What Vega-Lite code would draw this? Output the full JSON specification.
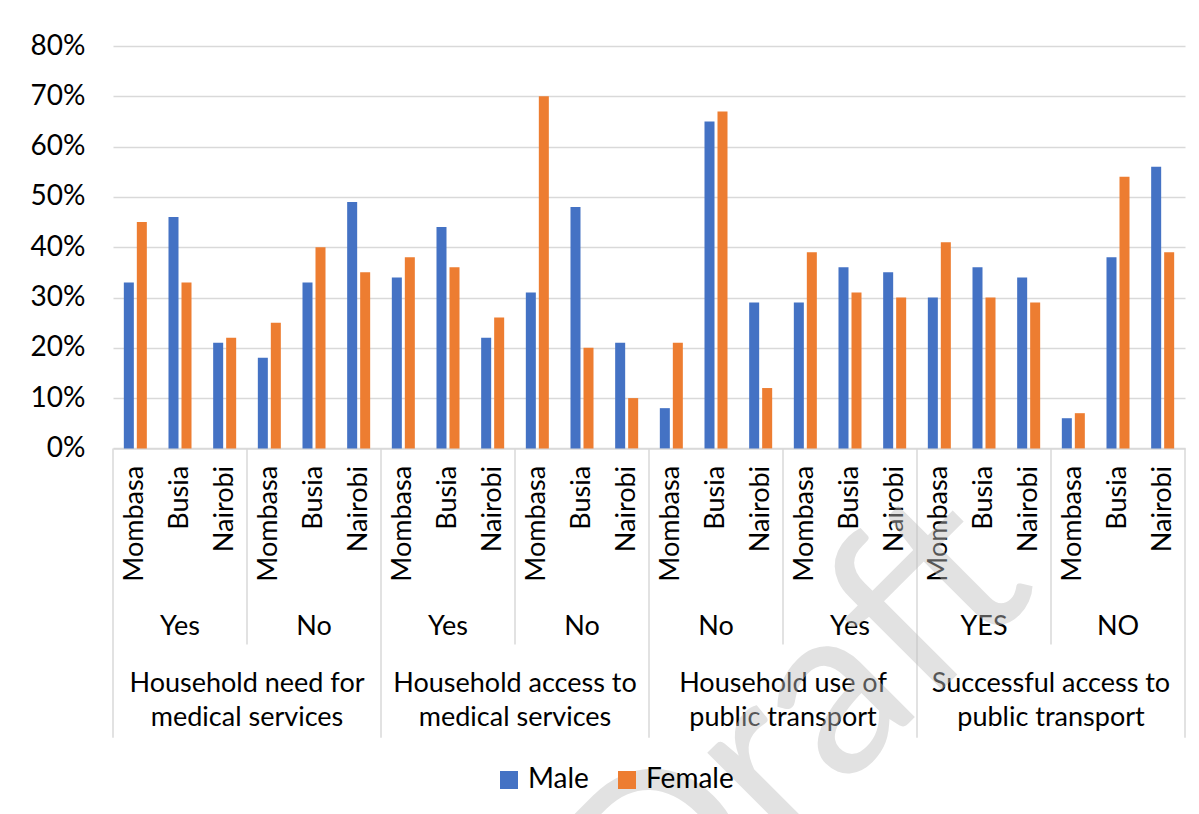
{
  "$schema": "https://vega.github.io/schema/vega-lite/v6.json",
  "autosize": "none",
  "width": 1072,
  "height": 402.4,
  "padding": {"left": 113, "top": 46, "right": 14, "bottom": 365.6},
  "background": "white",
  "config": {
    "font": "Lato",
    "view": {"stroke": null},
    "text": {"color": "#000000"}
  },
  "datasets": {
    "bars": [
      {"key": "A|Yes|Mombasa", "gender": "Male", "value": 0.33},
      {"key": "A|Yes|Mombasa", "gender": "Female", "value": 0.45},
      {"key": "A|Yes|Busia", "gender": "Male", "value": 0.46},
      {"key": "A|Yes|Busia", "gender": "Female", "value": 0.33},
      {"key": "A|Yes|Nairobi", "gender": "Male", "value": 0.21},
      {"key": "A|Yes|Nairobi", "gender": "Female", "value": 0.22},
      {"key": "A|No|Mombasa", "gender": "Male", "value": 0.18},
      {"key": "A|No|Mombasa", "gender": "Female", "value": 0.25},
      {"key": "A|No|Busia", "gender": "Male", "value": 0.33},
      {"key": "A|No|Busia", "gender": "Female", "value": 0.40},
      {"key": "A|No|Nairobi", "gender": "Male", "value": 0.49},
      {"key": "A|No|Nairobi", "gender": "Female", "value": 0.35},
      {"key": "B|Yes|Mombasa", "gender": "Male", "value": 0.34},
      {"key": "B|Yes|Mombasa", "gender": "Female", "value": 0.38},
      {"key": "B|Yes|Busia", "gender": "Male", "value": 0.44},
      {"key": "B|Yes|Busia", "gender": "Female", "value": 0.36},
      {"key": "B|Yes|Nairobi", "gender": "Male", "value": 0.22},
      {"key": "B|Yes|Nairobi", "gender": "Female", "value": 0.26},
      {"key": "B|No|Mombasa", "gender": "Male", "value": 0.31},
      {"key": "B|No|Mombasa", "gender": "Female", "value": 0.70},
      {"key": "B|No|Busia", "gender": "Male", "value": 0.48},
      {"key": "B|No|Busia", "gender": "Female", "value": 0.20},
      {"key": "B|No|Nairobi", "gender": "Male", "value": 0.21},
      {"key": "B|No|Nairobi", "gender": "Female", "value": 0.10},
      {"key": "C|No|Mombasa", "gender": "Male", "value": 0.08},
      {"key": "C|No|Mombasa", "gender": "Female", "value": 0.21},
      {"key": "C|No|Busia", "gender": "Male", "value": 0.65},
      {"key": "C|No|Busia", "gender": "Female", "value": 0.67},
      {"key": "C|No|Nairobi", "gender": "Male", "value": 0.29},
      {"key": "C|No|Nairobi", "gender": "Female", "value": 0.12},
      {"key": "C|Yes|Mombasa", "gender": "Male", "value": 0.29},
      {"key": "C|Yes|Mombasa", "gender": "Female", "value": 0.39},
      {"key": "C|Yes|Busia", "gender": "Male", "value": 0.36},
      {"key": "C|Yes|Busia", "gender": "Female", "value": 0.31},
      {"key": "C|Yes|Nairobi", "gender": "Male", "value": 0.35},
      {"key": "C|Yes|Nairobi", "gender": "Female", "value": 0.30},
      {"key": "D|YES|Mombasa", "gender": "Male", "value": 0.30},
      {"key": "D|YES|Mombasa", "gender": "Female", "value": 0.41},
      {"key": "D|YES|Busia", "gender": "Male", "value": 0.36},
      {"key": "D|YES|Busia", "gender": "Female", "value": 0.30},
      {"key": "D|YES|Nairobi", "gender": "Male", "value": 0.34},
      {"key": "D|YES|Nairobi", "gender": "Female", "value": 0.29},
      {"key": "D|NO|Mombasa", "gender": "Male", "value": 0.06},
      {"key": "D|NO|Mombasa", "gender": "Female", "value": 0.07},
      {"key": "D|NO|Busia", "gender": "Male", "value": 0.38},
      {"key": "D|NO|Busia", "gender": "Female", "value": 0.54},
      {"key": "D|NO|Nairobi", "gender": "Male", "value": 0.56},
      {"key": "D|NO|Nairobi", "gender": "Female", "value": 0.39}
    ],
    "sublabels": [
      {"key": "A|Yes|Busia", "label": "Yes"},
      {"key": "A|No|Busia", "label": "No"},
      {"key": "B|Yes|Busia", "label": "Yes"},
      {"key": "B|No|Busia", "label": "No"},
      {"key": "C|No|Busia", "label": "No"},
      {"key": "C|Yes|Busia", "label": "Yes"},
      {"key": "D|YES|Busia", "label": "YES"},
      {"key": "D|NO|Busia", "label": "NO"}
    ],
    "grouplabels": [
      {"key": "A|No|Mombasa", "label": "Household need for\nmedical services"},
      {"key": "B|No|Mombasa", "label": "Household access to\nmedical services"},
      {"key": "C|Yes|Mombasa", "label": "Household use of\npublic transport"},
      {"key": "D|NO|Mombasa", "label": "Successful access to\npublic transport"}
    ],
    "majorsep": [
      {"key": "A|Yes|Mombasa"},
      {"key": "B|Yes|Mombasa"},
      {"key": "C|No|Mombasa"},
      {"key": "D|YES|Mombasa"}
    ],
    "lastsep": [
      {"key": "D|NO|Nairobi"}
    ],
    "minorsep": [
      {"key": "A|No|Mombasa"},
      {"key": "B|No|Mombasa"},
      {"key": "C|Yes|Mombasa"},
      {"key": "D|NO|Mombasa"}
    ],
    "watermark": [
      {"key": "C|Yes|Mombasa", "label": "Draft"}
    ]
  },
  "encoding": {
    "x": {
      "field": "key",
      "type": "nominal",
      "scale": {
        "domain": [
          "A|Yes|Mombasa", "A|Yes|Busia", "A|Yes|Nairobi",
          "A|No|Mombasa", "A|No|Busia", "A|No|Nairobi",
          "B|Yes|Mombasa", "B|Yes|Busia", "B|Yes|Nairobi",
          "B|No|Mombasa", "B|No|Busia", "B|No|Nairobi",
          "C|No|Mombasa", "C|No|Busia", "C|No|Nairobi",
          "C|Yes|Mombasa", "C|Yes|Busia", "C|Yes|Nairobi",
          "D|YES|Mombasa", "D|YES|Busia", "D|YES|Nairobi",
          "D|NO|Mombasa", "D|NO|Busia", "D|NO|Nairobi"
        ],
        "paddingInner": 0,
        "paddingOuter": 0
      },
      "axis": {
        "title": null,
        "labelExpr": "split(datum.label, '|')[2]",
        "labelAngle": -90,
        "labelFontSize": 27,
        "labelColor": "#000000",
        "labelPadding": 17,
        "ticks": false,
        "grid": false,
        "domainColor": "#d9d9d9",
        "domainWidth": 1.5
      }
    }
  },
  "layer": [
    {
      "data": {"name": "bars"},
      "mark": {"type": "bar"},
      "encoding": {
        "y": {
          "field": "value",
          "type": "quantitative",
          "scale": {"domain": [0, 0.8], "nice": false, "zero": false},
          "axis": {
            "title": null,
            "values": [0, 0.1, 0.2, 0.3, 0.4, 0.5, 0.6, 0.7, 0.8],
            "format": ".0%",
            "labelFontSize": 28,
            "labelColor": "#000000",
            "labelPadding": 28,
            "ticks": false,
            "domain": false,
            "grid": true,
            "gridColor": "#d9d9d9",
            "gridWidth": 1.5
          }
        },
        "xOffset": {
          "field": "gender",
          "type": "nominal",
          "sort": ["Male", "Female"],
          "scale": {"paddingInner": 0.23, "paddingOuter": 0.833}
        },
        "color": {
          "field": "gender",
          "type": "nominal",
          "sort": ["Male", "Female"],
          "scale": {"domain": ["Male", "Female"], "range": ["#4472C4", "#ED7D31"]},
          "legend": {
            "title": null,
            "orient": "none",
            "direction": "horizontal",
            "legendX": 382,
            "legendY": 720,
            "padding": 0,
            "symbolType": "square",
            "symbolSize": 324,
            "symbolStrokeWidth": 0,
            "labelFontSize": 28,
            "labelColor": "#000000",
            "labelOffset": 5,
            "columnPadding": 24
          }
        }
      }
    },
    {
      "data": {"name": "minorsep"},
      "mark": {"type": "rule", "color": "#d9d9d9", "strokeWidth": 1.5},
      "encoding": {
        "x": {"field": "key", "type": "nominal", "bandPosition": 0},
        "y": {"datum": 0},
        "y2": {"datum": -0.39}
      }
    },
    {
      "data": {"name": "majorsep"},
      "mark": {"type": "rule", "color": "#d9d9d9", "strokeWidth": 1.5},
      "encoding": {
        "x": {"field": "key", "type": "nominal", "bandPosition": 0},
        "y": {"datum": 0},
        "y2": {"datum": -0.575}
      }
    },
    {
      "data": {"name": "lastsep"},
      "mark": {"type": "rule", "color": "#d9d9d9", "strokeWidth": 1.5},
      "encoding": {
        "x": {"field": "key", "type": "nominal", "bandPosition": 1},
        "y": {"datum": 0},
        "y2": {"datum": -0.575}
      }
    },
    {
      "data": {"name": "sublabels"},
      "mark": {"type": "text", "fontSize": 27, "baseline": "middle", "align": "center", "color": "#000000"},
      "encoding": {
        "x": {"field": "key", "type": "nominal", "bandPosition": 0.5},
        "y": {"datum": -0.356},
        "text": {"field": "label"}
      }
    },
    {
      "data": {"name": "grouplabels"},
      "mark": {"type": "text", "fontSize": 27, "baseline": "middle", "align": "center", "lineBreak": "\n", "lineHeight": 34, "color": "#000000"},
      "encoding": {
        "x": {"field": "key", "type": "nominal", "bandPosition": 0},
        "y": {"datum": -0.469},
        "text": {"field": "label"}
      }
    },
    {
      "data": {"name": "watermark"},
      "mark": {"type": "text", "fontSize": 240, "baseline": "middle", "align": "center", "angle": -45, "color": "#bfbfbf", "opacity": 0.45},
      "encoding": {
        "x": {"field": "key", "type": "nominal", "bandPosition": 0.3},
        "y": {"datum": -0.567},
        "text": {"field": "label"}
      }
    }
  ]
}
